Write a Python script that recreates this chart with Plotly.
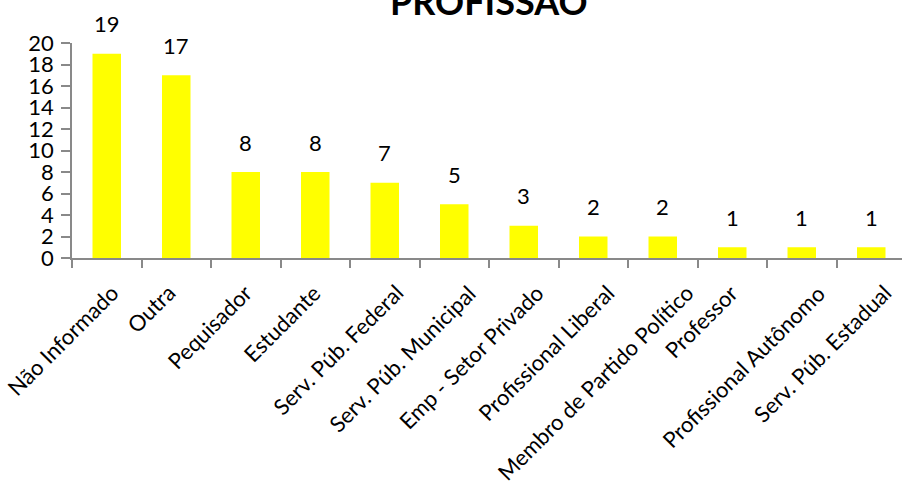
import plotly.graph_objects as go

categories = ["Não Informado", "Outra", "Pequisador", "Estudante", "Serv. Púb. Federal",
              "Serv. Púb. Municipal", "Emp - Setor Privado", "Profissional Liberal",
              "Membro de Partido Político", "Professor", "Profissional Autônomo",
              "Serv. Púb. Estadual"]
values = [19, 17, 8, 8, 7, 5, 3, 2, 2, 1, 1, 1]
y_ticks = list(range(0, 21, 2))
title_text = "PROFISSÃO"

FONT = "Lato"

fig = go.Figure()
fig.add_trace(go.Bar(x=categories, y=values, width=0.41,
                     marker=dict(color="#FFFF00", line=dict(width=0)),
                     hoverinfo="x+y"))

# value labels above the bars
annotations = [dict(x=i, y=v, xref="x", yref="y", text=str(v), showarrow=False,
                    yanchor="middle", yshift=30,
                    font=dict(family=FONT, size=22, color="#000000"))
               for i, v in enumerate(values)]

# rotated category labels (spreadsheet-style anchoring: longer labels sit further right)
for i, c in enumerate(categories):
    annotations.append(dict(x=i, y=0, xref="x", yref="y", text=c, showarrow=False,
                            textangle=-45, xanchor="right", yanchor="top",
                            xshift=1.5 * len(c) - 2, yshift=-20, borderpad=0,
                            font=dict(family=FONT, size=22, color="#000000")))

annotations.append(dict(x=0.5, y=1, xref="paper", yref="paper", text="<b>" + title_text + "</b>",
                        showarrow=False, yanchor="bottom", yshift=18,
                        font=dict(family=FONT, size=36, color="#000000")))

fig.update_layout(
    width=906, height=487,
    margin=dict(l=72, r=0, t=43, b=229, autoexpand=False),
    paper_bgcolor="white", plot_bgcolor="white",
    showlegend=False,
    annotations=annotations,
    font=dict(family=FONT, color="#000000"),
)
fig.update_xaxes(
    type="category", categoryorder="array", categoryarray=categories,
    range=[-0.5, len(categories) - 0.5],
    tickson="boundaries", showticklabels=False,
    ticks="outside", ticklen=8, tickcolor="#898989", tickwidth=1.5,
    showline=True, linecolor="#898989", linewidth=1.5,
    showgrid=False, automargin=False,
)
fig.update_yaxes(
    range=[0, 20], tickvals=y_ticks, ticktext=[str(t) for t in y_ticks],
    ticks="outside", ticklen=9, tickcolor="#898989", tickwidth=1.5,
    showline=True, linecolor="#898989", linewidth=1.5,
    showgrid=False, zeroline=False, automargin=False,
    ticklabelstandoff=3,
    tickfont=dict(family=FONT, size=22, color="#000000"),
)

fig.write_html("out.html", config={"displayModeBar": False},
               post_script="document.body.style.margin='0';document.body.style.overflow='hidden';")
